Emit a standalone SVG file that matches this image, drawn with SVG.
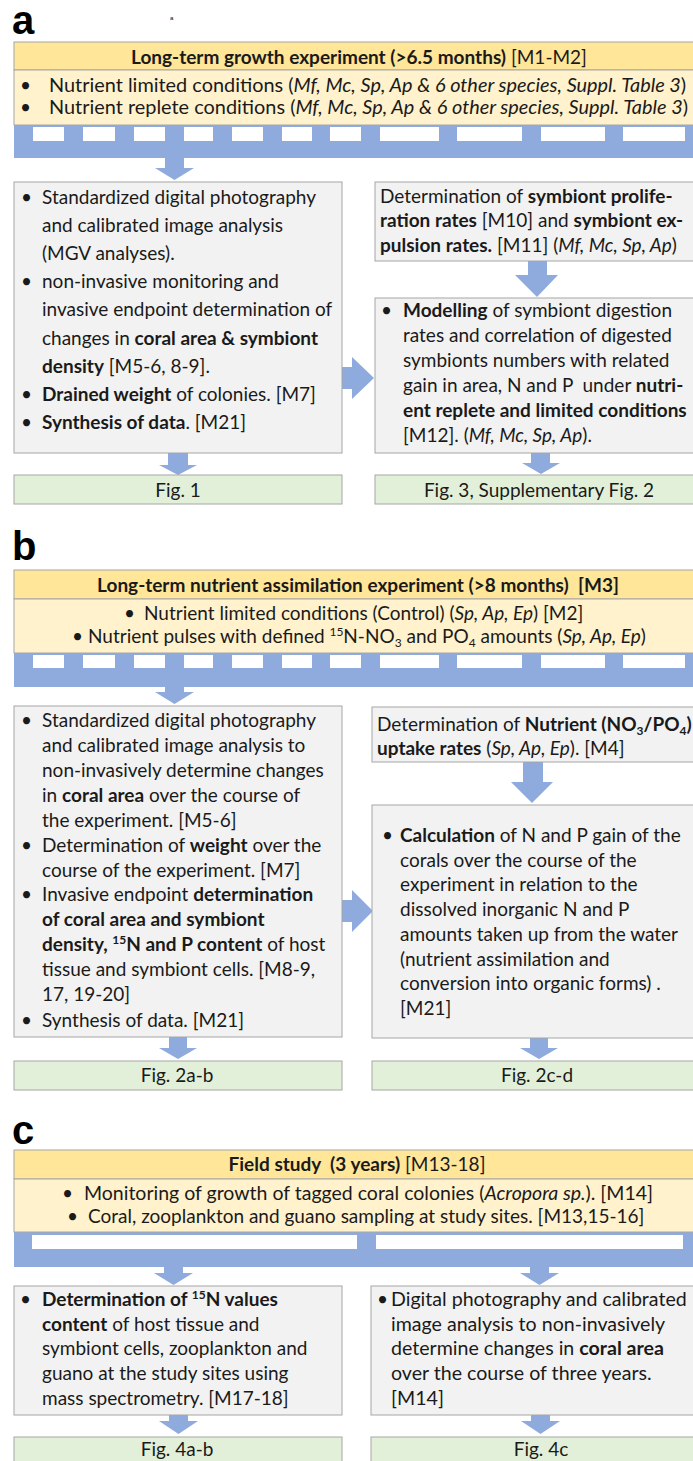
<svg xmlns="http://www.w3.org/2000/svg" width="693" height="1461" viewBox="0 0 693 1461">
<style>
.t{font-family:Lato,"Open Sans",sans-serif;font-size:19px;fill:#1a1a1a}
.w{font-size:19.9px}
.m{font-size:19.6px}
.c{text-anchor:middle}
.b{font-weight:bold}
.i{font-style:italic}
.lbl{font-family:"Liberation Sans",Arial,sans-serif;font-weight:bold;font-size:40px;fill:#000}
.hdr{fill:#FFE699;stroke:#A6A6A6;stroke-width:1}
.lt{fill:#FFF2CC;stroke:#A6A6A6;stroke-width:1}
.gb{fill:#F2F2F2;stroke:#A6A6A6;stroke-width:1}
.fg{fill:#E2F0D9;stroke:#A6A6A6;stroke-width:1}
.bl{fill:#8FAADC}
.wh{fill:#FFFFFF}
.sup{font-size:12px}
</style>
<rect width="693" height="1461" fill="#FFFFFF"/>

<!-- panel labels -->
<text class="lbl" x="12" y="34">a</text>
<text x="170" y="20" style="font-family:'Liberation Sans',sans-serif;font-size:6px">a</text>
<text class="lbl" x="12" y="560">b</text>
<text class="lbl" x="12" y="1144">c</text>

<!-- connectors -->
<g id="connectors">
  <rect class="bl" x="14" y="125" width="686" height="33"/>
  <g class="wh">
    <rect x="33" y="127" width="31" height="14"/><rect x="83" y="127" width="32" height="14"/>
    <rect x="134" y="127" width="31" height="14"/><rect x="184" y="127" width="29" height="14"/>
    <rect x="232" y="127" width="31" height="14"/><rect x="282" y="127" width="30" height="14"/>
    <rect x="330" y="127" width="31" height="14"/><rect x="380" y="127" width="59" height="14"/>
    <rect x="457" y="127" width="65" height="14"/><rect x="541" y="127" width="64" height="14"/>
    <rect x="623" y="127" width="62" height="14"/>
  </g>
  <rect class="bl" x="14" y="653" width="686" height="34"/>
  <g class="wh">
    <rect x="33" y="655" width="31" height="13"/><rect x="83" y="655" width="32" height="13"/>
    <rect x="134" y="655" width="31" height="13"/><rect x="184" y="655" width="29" height="13"/>
    <rect x="232" y="655" width="31" height="13"/><rect x="282" y="655" width="30" height="13"/>
    <rect x="330" y="655" width="31" height="13"/><rect x="380" y="655" width="59" height="13"/>
    <rect x="457" y="655" width="65" height="13"/><rect x="541" y="655" width="64" height="13"/>
    <rect x="623" y="655" width="62" height="13"/>
  </g>
  <rect class="bl" x="14" y="1232" width="686" height="35"/>
  <g class="wh">
    <rect x="32" y="1235" width="325" height="14"/><rect x="376" y="1235" width="307" height="14"/>
  </g>
  <g class="bl">
    <path d="M165 157H184V168H194L174.5 180L155 168H165Z"/>
    <path d="M342 367H352V357L374 378L352 399V389H342Z"/>
    <path d="M528 261H547V275H558L537 297L515 275H528Z"/>
    <path d="M168 453H188V465H197L178 475L159 465H168Z"/>
    <path d="M531 453H550V463H560L541 474L522 463H531Z"/>
    <path d="M165 686H184V692H194L174.5 704L155 692H165Z"/>
    <path d="M342 900H352V890L373 911L352 932V922H342Z"/>
    <path d="M523 762H543V782H553L532 803L511 782H523Z"/>
    <path d="M169 1037H187V1048H197L178 1059L159 1048H169Z"/>
    <path d="M530 1038H548V1048H558L539 1059L520 1048H530Z"/>
    <path d="M164 1266H183V1273H193L173.5 1285L154 1273H164Z"/>
    <path d="M530 1266H549V1273H559L539.5 1285L520 1273H530Z"/>
    <path d="M169 1415H188V1421H198L178.5 1434L159 1421H169Z"/>
    <path d="M531 1415H550V1421H560L540.5 1434L521 1421H531Z"/>
  </g>
</g>

<!-- section a -->
<g id="a-header">
  <rect class="hdr" x="14" y="42" width="686" height="28"/>
  <text class="t c" x="359" y="64"><tspan class="b">Long-term growth experiment (&gt;6.5 months)</tspan> [M1-M2]</text>
</g>
<g id="a-conditions">
  <rect class="lt" x="14" y="70" width="686" height="55"/>
  <text class="t" x="20" y="92">•</text>
  <text class="t w" x="49" y="92">Nutrient limited conditions (<tspan class="i">Mf, Mc, Sp, Ap &amp; 6 other species, Suppl. Table 3</tspan>)</text>
  <text class="t" x="20" y="114">•</text>
  <text class="t w" x="49" y="114">Nutrient replete conditions (<tspan class="i">Mf, Mc, Sp, Ap &amp; 6 other species, Suppl. Table 3</tspan>)</text>
</g>
<g id="a-imaging">
  <rect class="gb" x="14" y="182" width="328" height="271"/>
  <text class="t" x="21" y="204">•</text>
  <text class="t" x="42" y="204">Standardized digital photography</text>
  <text class="t" x="42" y="232">and calibrated image analysis</text>
  <text class="t" x="42" y="260">(MGV analyses).</text>
  <text class="t" x="21" y="288">•</text>
  <text class="t" x="42" y="288">non-invasive monitoring and</text>
  <text class="t" x="42" y="316">invasive endpoint determination of</text>
  <text class="t" x="42" y="345">changes in <tspan class="b">coral area &amp; symbiont</tspan></text>
  <text class="t" x="42" y="373"><tspan class="b">density</tspan> [M5-6, 8-9].</text>
  <text class="t" x="21" y="401">•</text>
  <text class="t" x="42" y="401"><tspan class="b">Drained weight</tspan> of colonies. [M7]</text>
  <text class="t" x="21" y="429">•</text>
  <text class="t" x="42" y="429"><tspan class="b">Synthesis of data</tspan>. [M21]</text>
</g>
<g id="a-fig1">
  <rect class="fg" x="14" y="475" width="328" height="29"/>
  <text class="t c" x="178" y="497">Fig. 1</text>
</g>
<g id="a-rates">
  <rect class="gb" x="375" y="182" width="325" height="79"/>
  <text class="t" x="380" y="203">Determination of <tspan class="b">symbiont prolife-</tspan></text>
  <text class="t" x="380" y="227"><tspan class="b">ration rates</tspan> [M10] and <tspan class="b">symbiont ex-</tspan></text>
  <text class="t" x="380" y="252"><tspan class="b">pulsion rates.</tspan> [M11] (<tspan class="i">Mf, Mc, Sp, Ap</tspan>)</text>
</g>
<g id="a-modelling">
  <rect class="gb" x="375" y="298" width="325" height="155"/>
  <text class="t" x="381" y="317">•</text>
  <text class="t" x="403" y="317"><tspan class="b">Modelling</tspan> of symbiont digestion</text>
  <text class="t" x="403" y="342">rates and correlation of digested</text>
  <text class="t" x="403" y="367">symbionts numbers with related</text>
  <text class="t" x="403" y="392">gain in area, N and P&#160; under <tspan class="b">nutri-</tspan></text>
  <text class="t" x="403" y="417"><tspan class="b">ent replete and limited conditions</tspan></text>
  <text class="t" x="403" y="442">[M12]. (<tspan class="i">Mf, Mc, Sp, Ap</tspan>).</text>
</g>
<g id="a-fig3">
  <rect class="fg" x="375" y="475" width="325" height="29"/>
  <text class="t c" x="539" y="497">Fig. 3, Supplementary Fig. 2</text>
</g>

<!-- section b -->
<g id="b-header">
  <rect class="hdr" x="14" y="570" width="686" height="29"/>
  <text class="t c b" x="358" y="592">Long-term nutrient assimilation experiment (&gt;8 months)&#160; [M3]</text>
</g>
<g id="b-conditions">
  <rect class="lt" x="14" y="599" width="686" height="54"/>
  <text class="t" x="124" y="620">•</text>
  <text class="t" x="144" y="620">Nutrient limited conditions (Control) (<tspan class="i">Sp, Ap, Ep</tspan>) [M2]</text>
  <text class="t" x="72" y="643">•</text>
  <text class="t" x="88" y="643">Nutrient pulses with defined <tspan class="sup" dy="-7">15</tspan><tspan dy="7">N-NO</tspan><tspan class="sup" dy="4">3</tspan><tspan dy="-4"> and PO</tspan><tspan class="sup" dy="4">4</tspan><tspan dy="-4"> amounts (</tspan><tspan class="i">Sp, Ap, Ep</tspan>)</text>
</g>
<g id="b-imaging">
  <rect class="gb" x="14" y="706" width="328" height="331"/>
  <text class="t" x="21" y="727">•</text>
  <text class="t" x="42" y="727">Standardized digital photography</text>
  <text class="t" x="42" y="752">and calibrated image analysis to</text>
  <text class="t" x="42" y="777">non-invasively determine changes</text>
  <text class="t" x="42" y="802">in <tspan class="b">coral area</tspan> over the course of</text>
  <text class="t" x="42" y="827">the experiment. [M5-6]</text>
  <text class="t" x="21" y="852">•</text>
  <text class="t" x="42" y="852">Determination of <tspan class="b">weight</tspan> over the</text>
  <text class="t" x="42" y="877">course of the experiment. [M7]</text>
  <text class="t" x="21" y="901">•</text>
  <text class="t" x="42" y="901">Invasive endpoint <tspan class="b">determination</tspan></text>
  <text class="t b" x="42" y="926">of coral area and symbiont</text>
  <text class="t" x="42" y="951"><tspan class="b">density, </tspan><tspan class="b sup" dy="-7">15</tspan><tspan class="b" dy="7">N and P content</tspan> of host</text>
  <text class="t" x="42" y="976">tissue and symbiont cells. [M8-9,</text>
  <text class="t" x="42" y="1001">17, 19-20]</text>
  <text class="t" x="21" y="1027">•</text>
  <text class="t" x="42" y="1027">Synthesis of data. [M21]</text>
</g>
<g id="b-fig2ab">
  <rect class="fg" x="14" y="1061" width="328" height="29"/>
  <text class="t c" x="177" y="1082">Fig. 2a-b</text>
</g>
<g id="b-uptake">
  <rect class="gb" x="372" y="707" width="328" height="55"/>
  <text class="t" x="377" y="731">Determination of <tspan class="b">Nutrient (NO</tspan><tspan class="b sup" dy="4">3</tspan><tspan class="b" dy="-4">/PO</tspan><tspan class="b sup" dy="4">4</tspan><tspan class="b" dy="-4">)</tspan></text>
  <text class="t" x="377" y="755"><tspan class="b">uptake rates</tspan> (<tspan class="i">Sp, Ap, Ep</tspan>). [M4]</text>
</g>
<g id="b-calculation">
  <rect class="gb" x="372" y="805" width="328" height="233"/>
  <text class="t" x="382" y="842">•</text>
  <text class="t" x="400" y="842"><tspan class="b">Calculation</tspan> of N and P gain of the</text>
  <text class="t" x="400" y="867">corals over the course of the</text>
  <text class="t" x="400" y="891">experiment in relation to the</text>
  <text class="t" x="400" y="916">dissolved inorganic N and P</text>
  <text class="t" x="400" y="941">amounts taken up from the water</text>
  <text class="t" x="400" y="966">(nutrient assimilation and</text>
  <text class="t" x="400" y="990">conversion into organic forms) .</text>
  <text class="t" x="400" y="1015">[M21]</text>
</g>
<g id="b-fig2cd">
  <rect class="fg" x="372" y="1061" width="328" height="29"/>
  <text class="t c" x="537" y="1082">Fig. 2c-d</text>
</g>

<!-- section c -->
<g id="c-header">
  <rect class="hdr" x="14" y="1150" width="686" height="29"/>
  <text class="t c" x="357" y="1171"><tspan class="b">Field study&#160; (3 years)</tspan> [M13-18]</text>
</g>
<g id="c-activities">
  <rect class="lt" x="14" y="1179" width="686" height="53"/>
  <text class="t" x="62" y="1200">•</text>
  <text class="t" x="84" y="1200" style="font-size:19.5px">Monitoring of growth of tagged coral colonies (<tspan class="i">Acropora sp.</tspan>). [M14]</text>
  <text class="t" x="67" y="1223">•</text>
  <text class="t" x="88" y="1223">Coral, zooplankton and guano sampling at study sites. [M13,15-16]</text>
</g>
<g id="c-isotopes">
  <rect class="gb" x="14" y="1286" width="328" height="129"/>
  <text class="t" x="20" y="1306">•</text>
  <text class="t" x="42" y="1306"><tspan class="b">Determination of </tspan><tspan class="b sup" dy="-7">15</tspan><tspan class="b" dy="7">N values</tspan></text>
  <text class="t" x="42" y="1331"><tspan class="b">content</tspan> of host tissue and</text>
  <text class="t" x="42" y="1355">symbiont cells, zooplankton and</text>
  <text class="t" x="42" y="1380">guano at the study sites using</text>
  <text class="t" x="42" y="1405">mass spectrometry. [M17-18]</text>
</g>
<g id="c-fig4ab">
  <rect class="fg" x="14" y="1437" width="328" height="30"/>
  <text class="t c" x="177" y="1456">Fig. 4a-b</text>
</g>
<g id="c-photography">
  <rect class="gb" x="371" y="1286" width="329" height="129"/>
  <text class="t" x="377" y="1306">•</text>
  <text class="t m" x="391" y="1306">Digital photography and calibrated</text>
  <text class="t m" x="391" y="1331">image analysis to non-invasively</text>
  <text class="t m" x="391" y="1355">determine changes in <tspan class="b">coral area</tspan></text>
  <text class="t m" x="391" y="1380">over the course of three years.</text>
  <text class="t m" x="391" y="1405">[M14]</text>
</g>
<g id="c-fig4c">
  <rect class="fg" x="371" y="1437" width="329" height="30"/>
  <text class="t c" x="541" y="1456">Fig. 4c</text>
</g>
</svg>
